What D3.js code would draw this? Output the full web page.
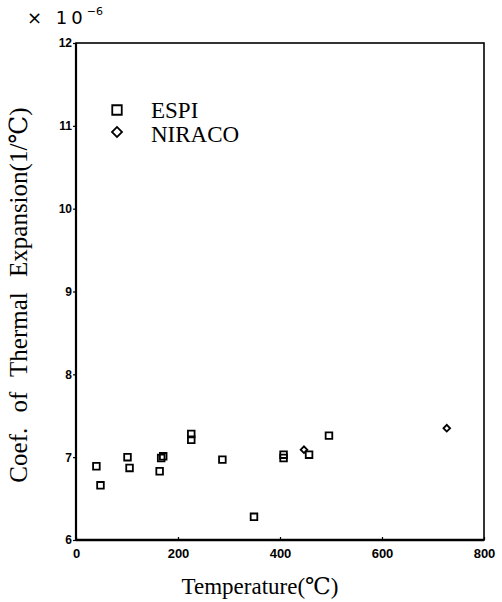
<!DOCTYPE html>
<html>
<head>
<meta charset="utf-8">
<script src="https://cdn.jsdelivr.net/npm/d3@7"></script>
<style>
  body { margin: 0; background: #fff; }
  svg { display: block; }
</style>
</head>
<body>
<div class="chart"></div>
<script>
// temperatures (°C) and coefficients (x1e-6 /°C)
const espiTemp = [40, 48, 101, 105, 164, 167, 171, 226, 226, 287, 349, 407, 407, 457, 496];
const espiCoef = [6.89, 6.66, 7.00, 6.87, 6.83, 6.99, 7.01, 7.28, 7.21, 6.97, 6.28, 7.03, 6.99, 7.03, 7.26];
const niracoTemp = [447, 727];
const niracoCoef = [7.09, 7.35];
const xTicks = [0, 200, 400, 600, 800];
const yTicks = [6, 7, 8, 9, 10, 11, 12];

const width = 502, height = 602;
const margin = {top: 43, right: 18, bottom: 62, left: 76};

const svg = d3.select('.chart')
  .append('svg')
  .attr('width', width)
  .attr('height', height);

const x = d3.scaleLinear()
  .domain([0, 800])
  .range([margin.left, width - margin.right]);
const y = d3.scaleLinear()
  .domain([6, 12])
  .range([height - margin.bottom, margin.top]);

const tickFont = '"Liberation Sans Narrow", "Arial Narrow", "Liberation Sans", sans-serif';
const serif = '"Liberation Serif", "DejaVu Serif", serif';

// x axis: small inward ticks
const xAxis = svg.append('g')
  .attr('transform', `translate(0,${y(6)})`)
  .call(d3.axisBottom(x).tickValues(xTicks).tickFormat(d3.format('d')).tickSize(-3).tickPadding(9));
xAxis.select('.domain').remove();
xAxis.selectAll('line').attr('stroke', '#000').attr('stroke-width', 1.2);
xAxis.selectAll('text')
  .attr('font-family', tickFont)
  .attr('font-weight', 'bold')
  .attr('font-size', 13)
  .attr('fill', '#000');

// y axis: short outward ticks
const yAxis = svg.append('g')
  .attr('transform', `translate(${x(0)},0)`)
  .call(d3.axisLeft(y).tickValues(yTicks).tickFormat(d3.format('d')).tickSize(3).tickPadding(1));
yAxis.select('.domain').remove();
yAxis.selectAll('line').attr('stroke', '#000').attr('stroke-width', 1.2);
yAxis.selectAll('text')
  .attr('font-family', tickFont)
  .attr('font-weight', 'bold')
  .attr('font-size', 12)
  .attr('fill', '#000');

// frame
svg.append('rect')
  .attr('x', x(0))
  .attr('y', y(12))
  .attr('width', x(800) - x(0))
  .attr('height', y(6) - y(12))
  .attr('fill', 'none')
  .attr('stroke', '#000')
  .attr('stroke-width', 1.6);
svg.append('line')
  .attr('x1', x(0)).attr('x2', x(800))
  .attr('y1', y(6)).attr('y2', y(6))
  .attr('stroke', '#000').attr('stroke-width', 2.4);
svg.append('line')
  .attr('x1', x(0)).attr('x2', x(0))
  .attr('y1', y(12)).attr('y2', y(6))
  .attr('stroke', '#000').attr('stroke-width', 2.2);

// diamond drawn as a square turned 45 degrees, so it is as wide as it is tall
const square = d3.symbol().type(d3.symbolSquare).size(44);
const diamond = d3.symbol().type(d3.symbolSquare).size(22);

const espi = d3.zip(espiTemp, espiCoef);
const niraco = d3.zip(niracoTemp, niracoCoef);

svg.append('g').selectAll('path')
  .data(espi)
  .join('path')
  .attr('d', square)
  .attr('transform', d => `translate(${x(d[0])},${y(d[1])})`)
  .attr('fill', 'none')
  .attr('stroke', '#000')
  .attr('stroke-width', 1.8);

svg.append('g').selectAll('path')
  .data(niraco)
  .join('path')
  .attr('d', diamond)
  .attr('transform', d => `translate(${x(d[0])},${y(d[1])}) rotate(45)`)
  .attr('fill', 'none')
  .attr('stroke', '#000')
  .attr('stroke-width', 1.8);

// legend
const legend = svg.append('g');
legend.append('path')
  .attr('d', d3.symbol().type(d3.symbolSquare).size(90))
  .attr('transform', 'translate(117,110)')
  .attr('fill', 'none').attr('stroke', '#000').attr('stroke-width', 1.8);
legend.append('path')
  .attr('d', d3.symbol().type(d3.symbolSquare).size(50))
  .attr('transform', 'translate(117,132) rotate(45)')
  .attr('fill', 'none').attr('stroke', '#000').attr('stroke-width', 1.8);
legend.selectAll('text')
  .data(['ESPI', 'NIRACO'])
  .join('text')
  .attr('x', 151)
  .attr('y', (d, i) => 118 + i * 24)
  .attr('font-family', serif)
  .attr('font-size', 23)
  .text(d => d);

// multiplier
const mult = svg.append('text')
  .attr('x', 27)
  .attr('y', 24)
  .attr('font-family', '"DejaVu Sans", sans-serif')
  .attr('font-size', 18)
  .attr('letter-spacing', 4);
mult.append('tspan').text('× 10');
mult.append('tspan')
  .attr('dy', -9)
  .attr('font-size', 11)
  .attr('letter-spacing', 0)
  .text('−6');

// axis titles
svg.append('text')
  .attr('x', 260)
  .attr('y', 594)
  .attr('text-anchor', 'middle')
  .attr('font-family', serif)
  .attr('font-size', 23)
  .text('Temperature(℃)');

svg.append('text')
  .attr('transform', 'translate(27,295) rotate(-90)')
  .attr('text-anchor', 'middle')
  .attr('font-family', serif)
  .attr('font-size', 25)
  .attr('word-spacing', 9)
  .text('Coef. of Thermal Expansion(1/℃)');
</script>
</body>
</html>
